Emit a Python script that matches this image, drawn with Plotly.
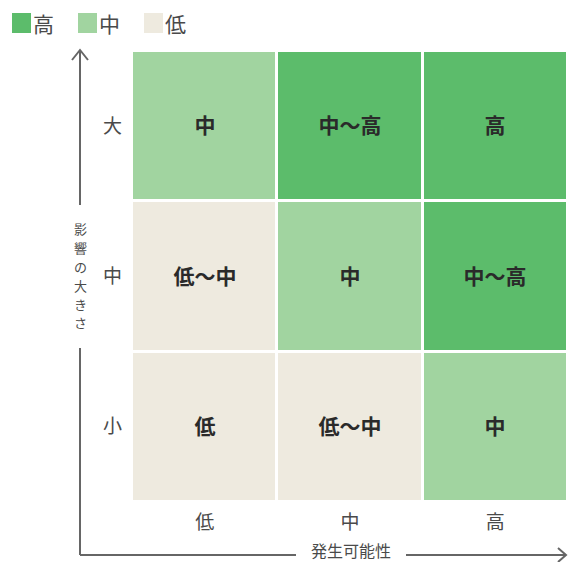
import plotly.graph_objects as go

# ---- data ----
likelihood = ["低", "中", "高"]          # x categories (発生可能性)
impact = ["小", "中", "大"]              # y categories (影響の大きさ), bottom -> top
cell_labels = [
    ["低", "低～中", "中"],              # 小
    ["低～中", "中", "中～高"],          # 中
    ["中", "中～高", "高"],              # 大
]
level_of_label = {"低": 0, "低～中": 0, "中": 1, "中～高": 2, "高": 2}
legend_names = ["高", "中", "低"]
legend_levels = [2, 1, 0]
level_colors = ["#EEEADF", "#A1D4A0", "#5CBC6B"]   # 低, 中, 高
x_title = "発生可能性"
y_title = "影響の大きさ"

z = [[level_of_label[s] for s in row] for row in cell_labels]

# ---- layout geometry ----
W, H = 568, 562
L, R, T, B = 132, 0, 51, 60
pw, ph = W - L - R, H - T - B
def fx(p): return (p - L) / pw
def fy(p): return (H - B - p) / ph

colorscale = [[0, level_colors[0]], [1/3, level_colors[0]],
              [1/3, level_colors[1]], [2/3, level_colors[1]],
              [2/3, level_colors[2]], [1, level_colors[2]]]

fig = go.Figure(go.Heatmap(
    x=likelihood, y=impact, z=z, text=cell_labels,
    texttemplate="<b>%{text}</b>",
    textfont=dict(size=21, color="#2a2a2a", family="Noto Sans CJK JP"),
    colorscale=colorscale, zmin=-0.5, zmax=2.5, showscale=False,
    xgap=3, ygap=3, hoverinfo="skip",
))

axis_font = dict(size=19, color="#4a4a4a", family="Noto Sans CJK JP")
fig.update_xaxes(showgrid=False, zeroline=False, showline=False, ticks="",
                 tickfont=axis_font, ticklabelstandoff=7)
fig.update_yaxes(showgrid=False, zeroline=False, showline=False, ticks="",
                 tickfont=axis_font, ticklabelstandoff=9)

line = dict(color="#666666", width=2)
shapes = []
def seg(x0, y0, x1, y1):
    shapes.append(dict(type="line", xref="paper", yref="paper",
                       x0=fx(x0), y0=fy(y0), x1=fx(x1), y1=fy(y1), line=line))
def path(pts):
    d = "M " + " L ".join(f"{fx(a)},{fy(b)}" for a, b in pts)
    shapes.append(dict(type="path", xref="paper", yref="paper", path=d, line=line))

# y arrow (vertical, gap for title)
seg(80, 51, 80, 205)
seg(80, 348, 80, 555)
path([(72, 60), (80, 50), (88, 60)])
# x arrow (horizontal, gap for title)
seg(80, 555, 296, 555)
seg(406, 555, 566, 555)
path([(558, 548), (566, 555), (558, 562)])

annotations = []
# vertical title: upright characters stacked top to bottom
for i, ch in enumerate(y_title):
    annotations.append(dict(text=ch, xref="paper", yref="paper",
                            x=fx(80), y=fy(228 + 19 * i), showarrow=False,
                            xanchor="center", yanchor="middle", borderpad=0,
                            font=dict(size=13, color="#4a4a4a", family="Noto Sans CJK JP")))
annotations.append(dict(text=x_title, xref="paper", yref="paper",
                        x=fx(351), y=fy(550), showarrow=False,
                        xanchor="center", yanchor="middle",
                        font=dict(size=16, color="#4a4a4a", family="Noto Sans CJK JP")))

# manual legend
for i, (name, lv) in enumerate(zip(legend_names, legend_levels)):
    x0 = 12 + 66 * i
    shapes.append(dict(type="rect", xref="paper", yref="paper",
                       x0=fx(x0), x1=fx(x0 + 19), y0=fy(33), y1=fy(13),
                       fillcolor=level_colors[lv], line=dict(width=0)))
    annotations.append(dict(text=name, xref="paper", yref="paper",
                            x=fx(x0 + 19), y=fy(23), showarrow=False,
                            xanchor="left", yanchor="middle",
                            font=dict(size=21, color="#4a4a4a", family="Noto Sans CJK JP")))

fig.update_layout(
    width=W, height=H, margin=dict(l=L, r=R, t=T, b=B),
    paper_bgcolor="white", plot_bgcolor="white",
    shapes=shapes, annotations=annotations, showlegend=False,
    font=dict(family="Noto Sans CJK JP"),
)

fig.write_html("out.html",
               config={"displayModeBar": False},
               post_script="document.body.style.margin='0';"
                           "document.body.style.overflow='hidden';")
